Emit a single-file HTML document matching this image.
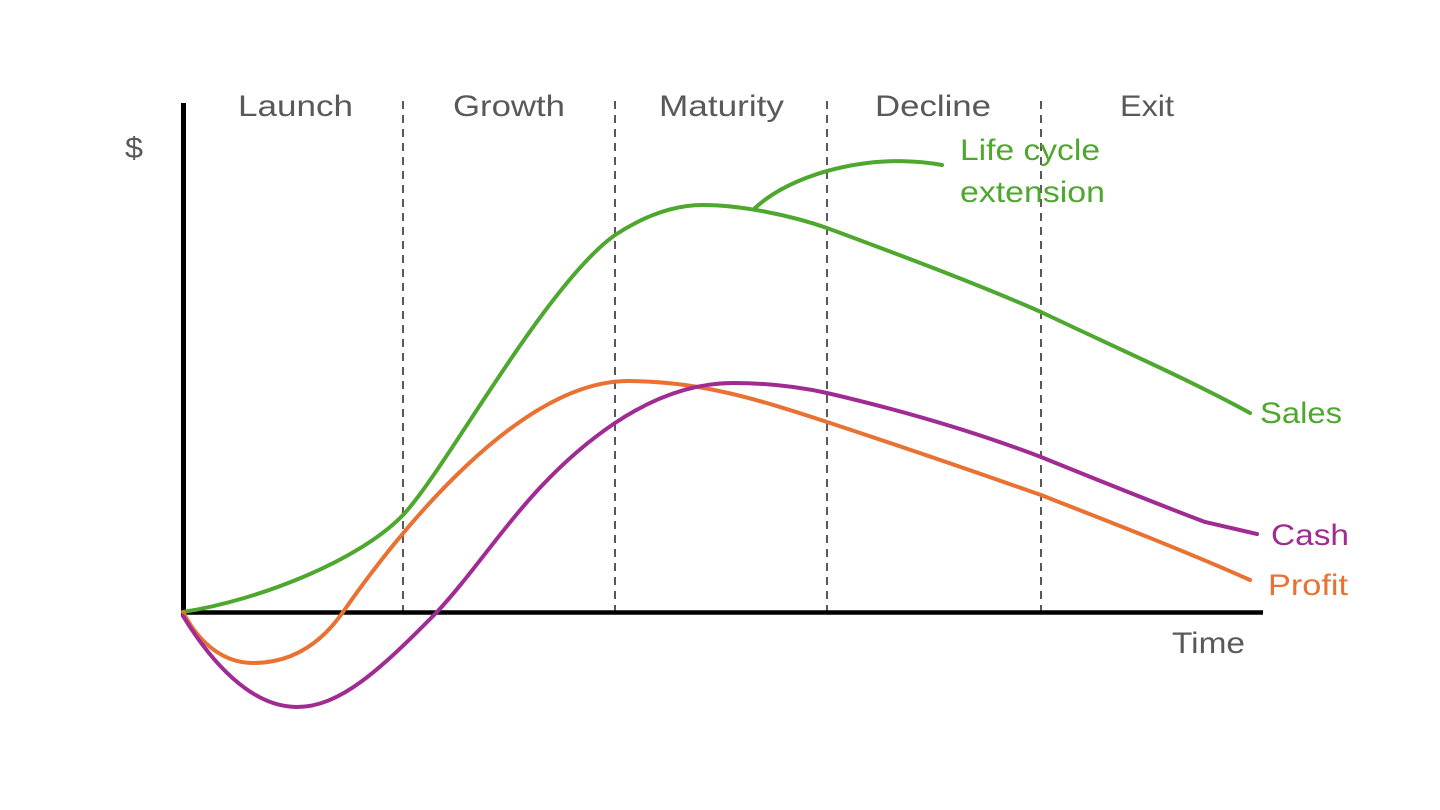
<!DOCTYPE html>
<html>
<head>
<meta charset="utf-8">
<style>
  html,body{margin:0;padding:0;background:#ffffff;}
  body{width:1440px;height:810px;overflow:hidden;}
  svg{display:block;}
  text{font-family:"Liberation Sans",sans-serif;}
</style>
</head>
<body>
<svg width="1440" height="810" viewBox="0 0 1440 810" xmlns="http://www.w3.org/2000/svg">
  <rect x="0" y="0" width="1440" height="810" fill="#ffffff"/>

  <!-- dashed phase separators -->
  <g stroke="#595959" stroke-width="2" stroke-dasharray="8,6" fill="none">
    <line x1="403" y1="101" x2="403" y2="611"/>
    <line x1="615" y1="101" x2="615" y2="611"/>
    <line x1="827" y1="101" x2="827" y2="611"/>
    <line x1="1041" y1="101" x2="1041" y2="611"/>
  </g>

  <!-- axes -->
  <line x1="183.5" y1="103" x2="183.5" y2="615" stroke="#000" stroke-width="5"/>
  <line x1="181" y1="612.5" x2="1263" y2="612.5" stroke="#000" stroke-width="4.5"/>

  <!-- Sales -->
  <path d="M183,612 C260,600 360,560 403,515 C445,471 545,285 615,235 C650,212 680,205 703,205 C740,205 790,215 827,228 C900,255 980,285 1041,312 C1110,345 1190,380 1250,413"
        fill="none" stroke="#4EA72E" stroke-width="4" stroke-linecap="round"/>
  <!-- Life cycle extension -->
  <path d="M755,208 C780,185 820,170 860,164 C885,160 915,160 942,165"
        fill="none" stroke="#4EA72E" stroke-width="4" stroke-linecap="round"/>

  <!-- Profit -->
  <path d="M183,612 C200,645 225,663 253,663 C290,663 320,645 343,612 C400,530 520,381 628,381 C700,381 760,400 827,422 C900,446 970,470 1041,495 C1110,522 1190,553 1250,580"
        fill="none" stroke="#E97132" stroke-width="4" stroke-linecap="round"/>

  <!-- Cash -->
  <path d="M183,616 C210,660 250,707 297,707 C340,707 380,670 437,612 C490,555 530,480 615,423 C660,393 700,383 733,383 C770,383 800,387 827,393 C900,410 970,430 1041,457 C1110,485 1160,505 1205,522 L1257,534"
        fill="none" stroke="#A02B93" stroke-width="4" stroke-linecap="round"/>

  <!-- Phase labels -->
  <g fill="#595959" font-size="30">
    <text x="238" y="116" textLength="115" lengthAdjust="spacingAndGlyphs">Launch</text>
    <text x="453" y="116" textLength="112" lengthAdjust="spacingAndGlyphs">Growth</text>
    <text x="659" y="116" textLength="125" lengthAdjust="spacingAndGlyphs">Maturity</text>
    <text x="875" y="116" textLength="116" lengthAdjust="spacingAndGlyphs">Decline</text>
    <text x="1120" y="116" textLength="54" lengthAdjust="spacingAndGlyphs">Exit</text>
    <text x="125" y="158" textLength="18" lengthAdjust="spacingAndGlyphs">$</text>
    <text x="1172" y="653" textLength="73" lengthAdjust="spacingAndGlyphs">Time</text>
  </g>

  <!-- Series labels -->
  <g font-size="30">
    <text x="960" y="160" fill="#4EA72E" textLength="140" lengthAdjust="spacingAndGlyphs">Life cycle</text>
    <text x="960" y="202" fill="#4EA72E" textLength="145" lengthAdjust="spacingAndGlyphs">extension</text>
    <text x="1260" y="423" fill="#4EA72E" textLength="82" lengthAdjust="spacingAndGlyphs">Sales</text>
    <text x="1271" y="545" fill="#A02B93" textLength="78" lengthAdjust="spacingAndGlyphs">Cash</text>
    <text x="1268" y="595" fill="#E97132" textLength="80" lengthAdjust="spacingAndGlyphs">Profit</text>
  </g>
</svg>
</body>
</html>
